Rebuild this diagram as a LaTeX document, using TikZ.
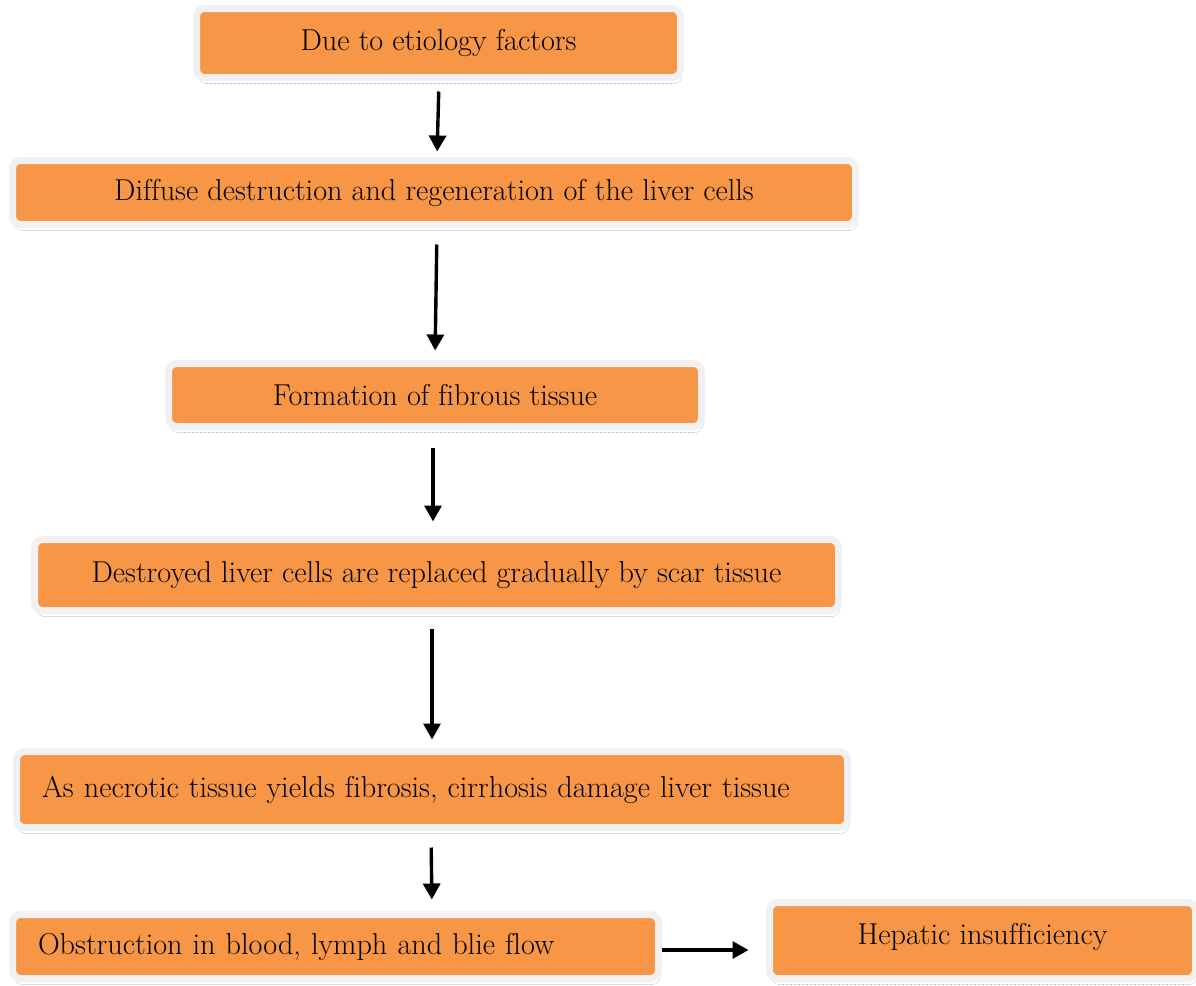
\documentclass[tikz,border=0pt]{standalone}
\usetikzlibrary{arrows.meta,calc,shadows}
\definecolor{boxorange}{HTML}{F79646}
\definecolor{boxrim}{HTML}{F1F1F1}
\newcommand\nlg{\kern0pt }
\tikzset{
  stepbox/.style={rectangle, rounded corners=8pt, fill=boxorange, draw=boxrim,
    line width=7pt, inner sep=0pt, font=\fontsize{30.2}{36}\selectfont,
    general shadow={shadow xshift=1.5pt, shadow yshift=-6pt, draw=black!35,
      densely dotted, line width=0.6pt, fill=none}},
  leftbox/.style={stepbox, inner xsep=25.5pt, align=left},
  flow/.style={line width=3.4pt, -{Triangle[length=16pt,width=17pt]}}
}
\begin{document}
\begin{tikzpicture}[x=1pt,y=-1pt]
\useasboundingbox (0,0) rectangle (1196,985);
\node[stepbox, minimum width=484pt, minimum height=69pt] (b1) at (438.5,43) {Due to etiology factors};
\node[stepbox, minimum width=843pt, minimum height=64pt] (b2) at (434,192.5) {Dif\nlg f\nlg use destruction and regeneration of the liver cells};
\node[stepbox, minimum width=533pt, minimum height=63pt] (b3) at (435,395) {Formation of f\nlg ibrous tissue};
\node[stepbox, minimum width=804pt, minimum height=71pt] (b4) at (436.5,575) {Destroyed liver cells are replaced gradually by scar tissue};
\node[leftbox, text width=780pt, minimum height=76pt] (b5) at (432,789.5) {As necrotic tissue yields f\nlg ibrosis, cirrhosis damage liver tissue};
\node[leftbox, text width=595pt, minimum height=64pt] (b6) at (335.5,946.5) {Obstruction in blood, lymph and blie f\nlg low};
\node[stepbox, minimum width=426pt, minimum height=76pt, text depth=14pt] (b7) at (982.5,940.5) {Hepatic insuf\nlg f\nlg iciency};
\draw[flow, shorten <=10.5pt, shorten >=5.5pt] ($(b1.south)+(0.5,0)$) -- ($(b2.north)+(3,0)$);
\draw[flow, shorten <=16.5pt, shorten >=9.5pt] ($(b2.south)+(3,0)$) -- ($(b3.north)+(0,0)$);
\draw[flow, shorten <=17.5pt, shorten >=14.5pt] ($(b3.south)+(-2,0)$) -- ($(b4.north)+(-3.5,0)$);
\draw[flow, shorten <=14.5pt, shorten >=8.5pt] ($(b4.south)+(-4.5,0)$) -- ($(b5.north)+(0,0)$);
\draw[flow, shorten <=16.5pt, shorten >=11.5pt] ($(b5.south)+(-1,0)$) -- ($(b6.north)+(96.5,0)$);
\draw[flow, shorten >=17.5pt] ($(b6.east)+(0,3.5)$) -- ($(b7.west)+(0,9.5)$);
\end{tikzpicture}
\end{document}
